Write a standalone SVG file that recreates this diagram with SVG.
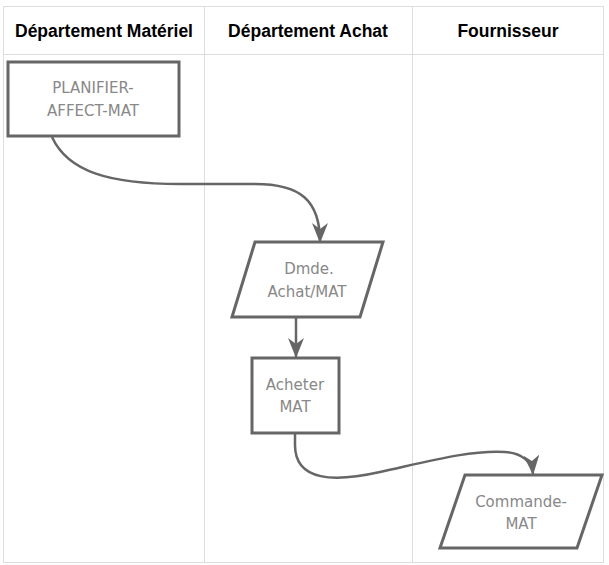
<svg xmlns="http://www.w3.org/2000/svg" width="609" height="565" viewBox="0 0 609 565">
<style>
.grid{stroke:#dddddd;stroke-width:1;fill:none}
.hdr{font-family:"Liberation Sans",Arial,sans-serif;font-weight:bold;font-size:17.5px;fill:#000;text-anchor:middle}
.shape{fill:#fff;stroke:#666;stroke-width:3}
.lbl{font-family:"DejaVu Sans",sans-serif;font-size:15px;fill:#888;text-anchor:middle}
.edge{fill:none;stroke:#666;stroke-width:2.5}
</style>
<defs>
<marker id="arr" viewBox="0 0 20 16" refX="19" refY="8" markerWidth="20" markerHeight="16" markerUnits="userSpaceOnUse" orient="auto">
<path d="M0,0 L20,8 L0,16 L6,8 Z" fill="#666"/>
</marker>
</defs>
<rect width="609" height="565" fill="#fff"/>
<g id="lanes">
<rect class="grid" x="3.5" y="6.5" width="600" height="556"/>
<line class="grid" x1="3.5" y1="54.5" x2="603.5" y2="54.5"/>
<line class="grid" x1="204.5" y1="6.5" x2="204.5" y2="562.5"/>
<line class="grid" x1="412.5" y1="6.5" x2="412.5" y2="562.5"/>
<text class="hdr" x="104" y="37">Département Matériel</text>
<text class="hdr" x="308" y="37">Département Achat</text>
<text class="hdr" x="508" y="37">Fournisseur</text>
</g>
<g id="connectors">
<path class="edge" d="M52,137 C68,172 110,184 180,184 L255,184 C300,184 320,200 320,242" marker-end="url(#arr)"/>
<path class="edge" d="M296,317 L296,357" marker-end="url(#arr)"/>
<path class="edge" d="M295,433 L295,445 C295,482 335,482 380,472 C430,461 470,450 505,452 C522,453 532,462 533,474" marker-end="url(#arr)"/>
</g>
<g id="planifier">
<rect class="shape" x="8" y="62" width="171" height="74"/>
<text class="lbl" x="93" y="93">PLANIFIER-</text>
<text class="lbl" x="93" y="116">AFFECT-MAT</text>
</g>
<g id="dmde">
<polygon class="shape" points="255,242 383,242 360,317 232,317"/>
<text class="lbl" x="309" y="274">Dmde.</text>
<text class="lbl" x="307" y="297">Achat/MAT</text>
</g>
<g id="acheter">
<rect class="shape" x="252" y="358" width="87" height="75"/>
<text class="lbl" x="295" y="390">Acheter</text>
<text class="lbl" x="295" y="412">MAT</text>
</g>
<g id="commande">
<polygon class="shape" points="465,475 602,475 577,548 440,548"/>
<text class="lbl" x="521" y="507">Commande-</text>
<text class="lbl" x="521" y="529">MAT</text>
</g>
</svg>
